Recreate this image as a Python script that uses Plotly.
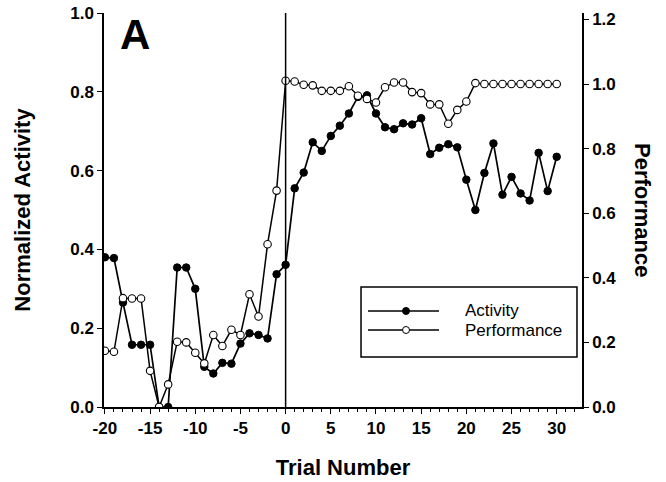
import plotly.graph_objects as go

trial = list(range(-20, 31))

activity = [0.38, 0.378, 0.265, 0.158, 0.158, 0.158, 0.0, 0.0, 0.354, 0.354,
            0.30, 0.102, 0.085, 0.112, 0.11, 0.161, 0.187, 0.183, 0.174, 0.337,
            0.361, 0.555, 0.595, 0.672, 0.650, 0.688, 0.714, 0.745, 0.787, 0.791,
            0.745, 0.710, 0.705, 0.720, 0.717, 0.733, 0.642, 0.658, 0.667, 0.659,
            0.577, 0.500, 0.594, 0.669, 0.539, 0.584, 0.542, 0.524, 0.645, 0.548,
            0.635]

performance = [0.174, 0.171, 0.337, 0.336, 0.336, 0.112, 0.0, 0.07, 0.202, 0.20,
               0.168, 0.135, 0.223, 0.189, 0.239, 0.223, 0.349, 0.28, 0.504, 0.67,
               1.01, 1.008, 0.998, 0.996, 0.979, 0.979, 0.979, 0.993, 0.964, 0.954,
               0.943, 0.99, 1.005, 1.005, 0.975, 0.972, 0.937, 0.937, 0.877, 0.92,
               0.946, 1.003, 1.0, 1.0, 1.0, 1.0, 1.0, 1.0, 1.0, 1.0,
               1.0]

x_tickvals = [-20, -15, -10, -5, 0, 5, 10, 15, 20, 25, 30]
x_ticktext = ["-20", "-15", "-10", "-5", "0", "5", "10", "15", "20", "25", "30"]
left_tickvals = [0.0, 0.2, 0.4, 0.6, 0.8, 1.0]
right_tickvals = [0.0, 0.2, 0.4, 0.6, 0.8, 1.0, 1.2]

FONT = "Liberation Sans"
tickfont = dict(family=FONT, size=17, color="black", weight="bold")

fig = go.Figure()
fig.add_trace(go.Scatter(
    x=trial, y=activity, mode="lines+markers", name="Activity",
    line=dict(color="black", width=1.7),
    marker=dict(symbol="circle", size=7.5, color="black", line=dict(color="black", width=1)),
    yaxis="y", showlegend=False))
fig.add_trace(go.Scatter(
    x=trial, y=performance, mode="lines+markers", name="Performance",
    line=dict(color="black", width=1.5),
    marker=dict(symbol="circle", size=7.5, color="white", line=dict(color="black", width=1.1)),
    yaxis="y2", showlegend=False))

fig.update_layout(
    width=666, height=482,
    margin=dict(l=104, r=84, t=13, b=75),
    paper_bgcolor="white", plot_bgcolor="white",
    xaxis=dict(range=[-20.1, 32.8], tickvals=x_tickvals, ticktext=x_ticktext, automargin=False,
               ticks="outside", ticklen=5, tickwidth=1.2, tickcolor="black",
               minor=dict(dtick=1, ticks="outside", ticklen=3, tickcolor="black", tickwidth=1),
               showline=True, linecolor="black", linewidth=1.5, showgrid=False, zeroline=False,
               tickfont=tickfont,
               title=dict(text="Trial Number", font=dict(family=FONT, size=22, color="black", weight="bold"),
                          standoff=22)),
    yaxis=dict(range=[0, 1.0], tickvals=left_tickvals, tickformat=".1f", automargin=False,
               ticks="outside", ticklen=5, tickwidth=1.2, tickcolor="black",
               showline=True, linecolor="black", linewidth=1.5, showgrid=False, zeroline=False,
               tickfont=tickfont,
               title=dict(text="Normalized Activity", font=dict(family=FONT, size=22, color="black", weight="bold"),
                          standoff=34)),
    yaxis2=dict(range=[0, 1.22], tickvals=right_tickvals, tickformat=".1f", overlaying="y", side="right",
                automargin=False,
                ticks="outside", ticklen=5, tickwidth=1.2, tickcolor="black",
                showline=True, linecolor="black", linewidth=1.5, showgrid=False, zeroline=False,
                tickfont=tickfont),
)

# vertical line at trial 0
fig.add_shape(type="line", xref="x", yref="paper", x0=0, x1=0, y0=0, y1=1,
              line=dict(color="black", width=1.5))

# Right axis title (reads top to bottom)
fig.add_annotation(text="Performance", xref="paper", yref="paper", x=1.0, y=0.5,
                   xanchor="center", yanchor="middle", xshift=61, textangle=90, showarrow=False,
                   font=dict(family=FONT, size=22, color="black", weight="bold"))

# Panel label
fig.add_annotation(text="A", xref="paper", yref="paper", x=0.029, y=1.0,
                   xanchor="left", yanchor="top", showarrow=False, yshift=4,
                   font=dict(family=FONT, size=42, color="black", weight="bold"))

# Manual legend
bx0, bx1, by0, by1 = 0.5377, 0.9895, 0.127, 0.3046
fig.add_shape(type="rect", xref="paper", yref="paper", x0=bx0, x1=bx1, y0=by0, y1=by1,
              line=dict(color="black", width=1.5), fillcolor="white")
rows = [("Activity", 0.2437, "black"), ("Performance", 0.1954, "white")]
for label, yy, fill in rows:
    fig.add_shape(type="line", xref="paper", yref="paper", x0=0.5523, x1=0.7008, y0=yy, y1=yy,
                  line=dict(color="black", width=1.5))
    fig.add_shape(type="circle", xref="paper", yref="paper", xsizemode="pixel", ysizemode="pixel",
                  xanchor=0.6318, yanchor=yy, x0=-3.5, x1=3.5, y0=-3.5, y1=3.5,
                  line=dict(color="black", width=1), fillcolor=fill)
    fig.add_annotation(text=label, xref="paper", yref="paper", x=0.751, y=yy,
                       xanchor="left", yanchor="middle", showarrow=False,
                       font=dict(family=FONT, size=17, color="black"))

fig.write_html("out.html")
